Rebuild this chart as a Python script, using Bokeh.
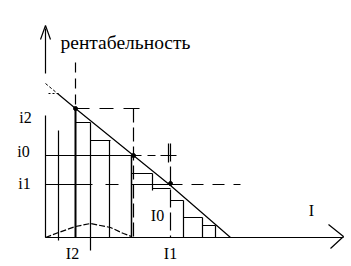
from bokeh.plotting import figure
from bokeh.models import Range1d
from bokeh.core.properties import value
from bokeh.embed import file_html
from bokeh.resources import INLINE

# ---- data (diagram coordinates: origin at axes crossing) ----
I_names = ["I2", "I0", "I1"]
I_vals = [30, 88, 125]
i_names = ["i2", "i0", "i1"]
i_vals = [129, 82, 53]

line_x = [12, 30, 88, 125, 185]
line_y = [144, 129, 82, 52, 0]
line_start_x = [0, 12]
line_start_y = [154, 144]

# staircase under the line (left part and right part)
step_left_x0 = [30, 45]
step_left_x1 = [45, 65]
step_left_y = [115, 97]
step_right_x0 = [86, 107, 125, 138, 157]
step_right_x1 = [107, 125, 138, 157, 170]
step_right_y = [64, 49, 37, 20, 12]
step_right_vx = [107, 138, 157, 170]
step_right_vtop = [64, 37, 20, 12]
step_right_vbot = [47, 0, 0, 0]

# thin vertical grid lines
grid_x = [13, 45, 64]
grid_top = [107, 115, 97]
grid_bot = [-3, -13, 0]

# hump curve
hump_x = [0, 13, 30, 45, 65, 78, 86]
hump_y = [0, 5, 11, 14, 10, 4, 1]

TITLE = "рентабельность"
X_NAME = "I"

p = figure(width=351, height=266, x_range=Range1d(-45, 306), y_range=Range1d(-29, 237),
           min_border=0, toolbar_location=None, output_backend="svg")
p.axis.visible = False
p.grid.visible = False
p.outline_line_color = None
p.background_fill_color = "white"
p.border_fill_color = "white"

K = "black"
I2, I0, I1 = I_vals
i2, i0, i1 = i_vals

# axes
p.segment(x0=[0, 0], y0=[209, 122], x1=[0, 0], y1=[164, 0], color=K, line_width=1.2)
p.line(x=[-5, 0, 5], y=[198, 212, 198], color=K, line_width=1.2)
p.segment(x0=[0], y0=[0], x1=[298], y1=[0], color=K, line_width=1.2)
p.line(x=[283, 298, 285], y=[13, 1, -11], color=K, line_width=1.2)

# demand line
p.line(x=line_start_x, y=line_start_y, color=K, line_width=1, line_dash="3 2")
p.line(x=line_x, y=line_y, color=K, line_width=1.2)
p.line(x=[3, 13], y=[144, 144], color=K, line_width=1, line_dash="2 2")

# I2 vertical
p.segment(x0=[I2], y0=[175], x1=[I2], y1=[i2], color=K, line_width=1.2, line_dash="10 6")
p.segment(x0=[I2], y0=[i2], x1=[I2], y1=[0], color=K, line_width=2)
# i2 dashed level with T
p.segment(x0=[I2], y0=[i2], x1=[95], y1=[i2], color=K, line_width=1.2, line_dash="14 10")
p.segment(x0=[86], y0=[i2], x1=[94], y1=[i2], color=K, line_width=1.2)
p.segment(x0=[I0], y0=[i2], x1=[I0], y1=[0], color=K, line_width=1.2, line_dash="14 5")
p.segment(x0=[I0 - 2], y0=[i0], x1=[I0 - 2], y1=[0], color=K, line_width=1.5)

# i0 level
p.segment(x0=[0], y0=[i0], x1=[I0], y1=[i0], color=K, line_width=1.2)
p.segment(x0=[I0], y0=[i0], x1=[113], y1=[i0], color=K, line_width=1.2, line_dash="8 6")
p.segment(x0=[115, I1 - 2], y0=[i0, 94], x1=[131, I1 - 2], y1=[i0, 75], color=K, line_width=1.2)

# i1 level
p.segment(x0=[0, 60, I0 - 2], y0=[i1, i1, i1], x1=[47, 73, I1], y1=[i1, i1, i1], color=K, line_width=1.2)
p.segment(x0=[I1], y0=[i1], x1=[195], y1=[i1], color=K, line_width=1.2, line_dash="12 9")

# I1 vertical
p.segment(x0=[I1], y0=[94], x1=[I1], y1=[0], color=K, line_width=1.2, line_dash="18 5")

# grid verticals
p.segment(x0=grid_x, y0=grid_top, x1=grid_x, y1=grid_bot, color=K, line_width=1.2)

# staircase
p.segment(x0=step_left_x0, y0=step_left_y, x1=step_left_x1, y1=step_left_y, color=K, line_width=1.2)
p.segment(x0=step_right_x0, y0=step_right_y, x1=step_right_x1, y1=step_right_y, color=K, line_width=1.2)
p.segment(x0=step_right_vx, y0=step_right_vtop, x1=step_right_vx, y1=step_right_vbot, color=K, line_width=1.2)

# hump
p.line(x=hump_x, y=hump_y, color=K, line_width=1.2, line_dash="6 2")

# points
p.scatter(x=[I2, I0, I1], y=[i2, i0, i1 + 1], size=4, color=K)

F = value("Liberation Serif")
p.text(x=[15], y=[195], text=[TITLE], text_font=F, text_font_size="19.5px",
       text_baseline="middle", text_align="left", color=K)
p.text(x=[-20, -22, -21], y=[120, 86, 54], text=i_names, text_font=F,
       text_font_size="16px", text_baseline="middle", text_align="center", color=K)
p.text(x=[27, 112, 125], y=[-16, 22, -16], text=I_names, text_font=F,
       text_font_size="16px", text_baseline="middle", text_align="center", color=K)
p.text(x=[266], y=[27], text=[X_NAME], text_font=F,
       text_font_size="16px", text_baseline="middle", text_align="center", color=K)

open("out.html", "w").write(file_html(p, INLINE))
